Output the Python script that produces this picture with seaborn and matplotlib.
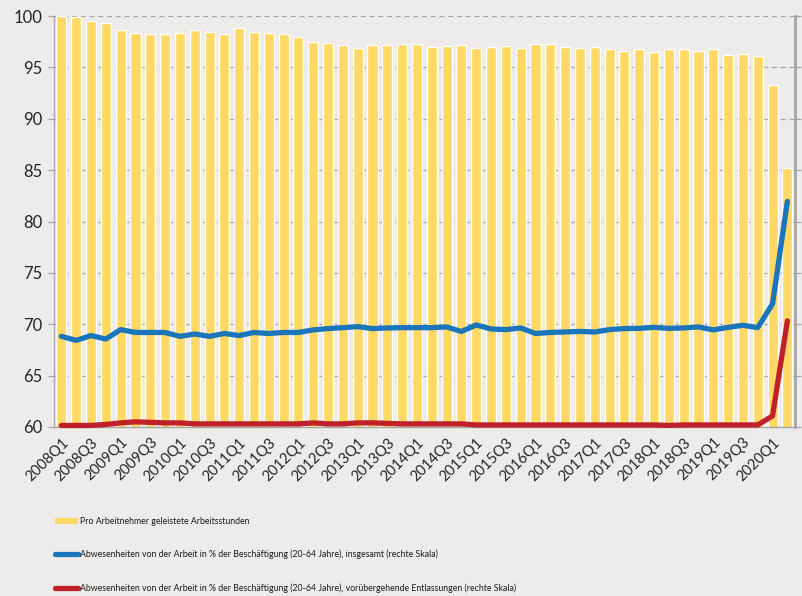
import matplotlib
matplotlib.use("Agg")
import matplotlib.pyplot as plt
import seaborn as sns
import pandas as pd
import numpy as np
from matplotlib.patches import Patch
from matplotlib.lines import Line2D

# ---- data ----
quarters = [f"{y}Q{q}" for y in range(2008, 2021) for q in range(1, 5)][:50]

hours = [100.0, 99.87, 99.55, 99.35, 98.6, 98.4, 98.3, 98.3, 98.4, 98.6,
         98.5, 98.3, 98.8, 98.5, 98.4, 98.3, 97.95, 97.5, 97.4, 97.2,
         96.9, 97.2, 97.2, 97.3, 97.3, 96.98, 97.08, 97.2, 96.9, 96.98,
         97.08, 96.9, 97.3, 97.3, 96.98, 96.9, 96.98, 96.75, 96.65, 96.75,
         96.46, 96.75, 96.75, 96.56, 96.75, 96.23, 96.33, 96.1, 93.3, 85.26]

absent_total = [68.82, 68.43, 68.9, 68.56, 69.48, 69.2, 69.2, 69.2, 68.82, 69.05,
                68.82, 69.1, 68.9, 69.2, 69.1, 69.2, 69.2, 69.45, 69.58, 69.67,
                69.77, 69.58, 69.64, 69.67, 69.67, 69.67, 69.74, 69.3, 69.93, 69.54,
                69.48, 69.64, 69.1, 69.2, 69.25, 69.3, 69.25, 69.48, 69.58, 69.6,
                69.7, 69.6, 69.64, 69.74, 69.45, 69.7, 69.9, 69.67, 72.0, 81.96]

absent_layoff = [60.15, 60.15, 60.15, 60.25, 60.4, 60.5, 60.45, 60.4, 60.4, 60.3,
                 60.3, 60.3, 60.3, 60.3, 60.3, 60.3, 60.3, 60.4, 60.3, 60.3,
                 60.4, 60.4, 60.35, 60.3, 60.3, 60.3, 60.3, 60.3, 60.2, 60.2,
                 60.2, 60.2, 60.2, 60.2, 60.2, 60.2, 60.2, 60.2, 60.2, 60.2,
                 60.2, 60.15, 60.2, 60.2, 60.2, 60.2, 60.2, 60.2, 61.08, 70.33]

label_bars = "Pro Arbeitnehmer geleistete Arbeitsstunden"
label_total = "Abwesenheiten von der Arbeit in % der Beschäftigung (20-64 Jahre), insgesamt (rechte Skala)"
label_layoff = "Abwesenheiten von der Arbeit in % der Beschäftigung (20-64 Jahre), vorübergehende Entlassungen (rechte Skala)"

# ---- style ----
bg = "#EDECEA"
bar_c = "#FFD966"
blue_c = "#1B75BB"
red_c = "#C0202A"
grid_c = "#A6A6A6"

sns.set_style("white")
plt.rcParams["font.family"] = ["Lato", "DejaVu Sans"]

fig = plt.figure(figsize=(8.02, 5.96), dpi=100, facecolor=bg)
ax = fig.add_axes([0.0673, 0.2836, 0.9237, 0.6894])
ax.set_facecolor(bg)

df = pd.DataFrame({"q": quarters, "hours": hours,
                   "total": absent_total, "layoff": absent_layoff})
df["idx"] = np.arange(len(df))

sns.barplot(data=df, x="q", y="hours", color=bar_c, saturation=1,
            width=0.68, ax=ax, zorder=2)
sns.lineplot(data=df, x="idx", y="total", color=blue_c, lw=3.8, ax=ax,
             zorder=4, solid_capstyle="round")
sns.lineplot(data=df, x="idx", y="layoff", color=red_c, lw=3.8, ax=ax,
             zorder=4, solid_capstyle="round", clip_on=False)

ax.set_xlim(-0.5, len(quarters) - 0.5)
ax.set_ylim(60, 100)
ax.set_yticks(range(60, 101, 5))
ax.set_xlabel("")
ax.set_ylabel("")

for y in range(65, 101, 5):
    ax.axhline(y, color=grid_c, lw=0.9, ls=(0, (4, 3)), zorder=1)

# x ticks between categories, labels every 2nd category
ax.set_xticks(np.arange(-0.5, len(quarters), 1), minor=True)
ax.set_xticks(np.arange(0, len(quarters), 2))
ax.set_xticklabels(quarters[::2], rotation=45, ha="right",
                   rotation_mode="anchor", fontsize=10.5, color="#262626")
ax.tick_params(axis="x", which="major", length=0, pad=6)
ax.tick_params(axis="x", which="minor", length=4, color=grid_c, width=0.9)
ax.tick_params(axis="y", left=True, right=True, labelright=False,
               length=4, color=grid_c, width=0.9, labelsize=12,
               labelcolor="#262626", pad=4)

for s in ["left", "bottom", "right"]:
    ax.spines[s].set_visible(True)
    ax.spines[s].set_color(grid_c)
    ax.spines[s].set_linewidth(1.0)
ax.spines["top"].set_visible(False)
ax.spines["right"].set_linewidth(2.0)

handles = [Patch(facecolor=bar_c, edgecolor="none"),
           Line2D([], [], color=blue_c, lw=3.8, solid_capstyle="round"),
           Line2D([], [], color=red_c, lw=3.8, solid_capstyle="round")]
fig.legend(handles, [label_bars, label_total, label_layoff],
           loc="upper left", bbox_to_anchor=(0.0686, 0.133), frameon=False,
           prop={"family": ["Lato", "DejaVu Sans"], "size": 6.3},
           labelspacing=2.75, handlelength=2.6, handletextpad=0.2,
           handleheight=0.7, borderaxespad=0, borderpad=0,
           labelcolor="#1a1a1a")

fig.savefig("out.png", dpi=100, facecolor=bg)
